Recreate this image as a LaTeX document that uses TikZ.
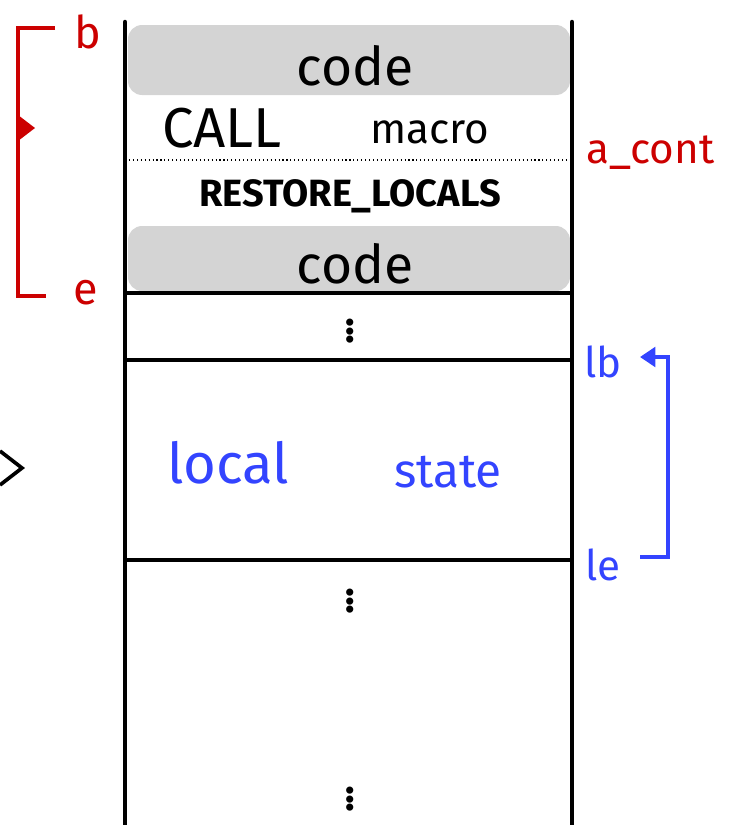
\documentclass[tikz,border=0pt]{standalone}
\usepackage{fontspec}
\setmainfont{Fira Sans}
\usetikzlibrary{arrows.meta, positioning}
\definecolor{vermelho}{RGB}{204, 0, 0}
\definecolor{azul}{RGB}{51, 68, 255}
\definecolor{cinza}{RGB}{212, 212, 212}

\begin{document}
\begin{tikzpicture}[
    x=0.025cm, y=-0.025cm,
    parede/.style={
        line width=3.2pt,
        line cap=round
    },
    divisa/.style={
        line width=2.6pt
    },
    faixa/.style={
        fill=cinza,
        draw=none,
        rounded corners=10pt
    },
    texto/.style={
        font=\fontsize{#1}{#1}\selectfont,
        inner sep=0pt
    },
    pontos/.style={
        font=\fontsize{28}{28}\selectfont\bfseries,
        inner sep=0pt
    },
    chave/.style={
        draw=vermelho,
        line width=2.8pt
    },
    seta/.style={
        -{Triangle[length=11pt, width=14pt]},
        draw=azul,
        line width=2.6pt
    }
]
\useasboundingbox (0,0) rectangle (731,825);

% =================================================
% PILHA
% =================================================

\fill[faixa] (128,25) rectangle (570,95);
\fill[faixa] (128,226) rectangle (570,291);

\draw[parede] (125,22) -- (125,825);
\draw[parede] (572,22) -- (572,825);

\draw[dotted, thick] (125,160) -- (572,160);
\draw[divisa] (125,293) -- (572,293);
\draw[divisa] (125,360) -- (572,360);
\draw[divisa] (125,560) -- (572,560);

\node[texto=38] (code1) at (355,66)
{code};

\node[texto=40] (call) at (222,128)
{CALL};

\node[texto=30] (macro) at (430,132)
{macro};

\node[texto=27] (restore) at (350,196)
{\bfseries RESTORE\_LOCALS};

\node[texto=38] (code2) at (355,264)
{code};

\node[pontos] (dots1) at (350,327)
{$\vdots$};

\node[texto=40, text=azul] (local) at (228,463)
{local};

\node[texto=34, text=azul] (state) at (448,472)
{state};

\node[pontos] (dots2) at (350,597)
{$\vdots$};

\node[pontos] (dots3) at (350,795)
{$\vdots$};

% =================================================
% BLOCO b / e
% =================================================

\node[texto=32, text=vermelho] (b) at (88,32)
{b};

\node[texto=32, text=vermelho] (e) at (86,293)
{e};

\node[texto=30, text=vermelho, anchor=west] (acont) at (586,153)
{a\_cont};

\coordinate (bfim) at (55,28);
\coordinate (efim) at (46,296);

\draw[chave] (bfim) -- (18,28) -- (18,296) -- (efim);
\fill[vermelho] (18,115) -- (35,128) -- (18,141) -- cycle;

% =================================================
% ESTADO LOCAL
% =================================================

\node[texto=30, text=azul] (lb) at (603,362)
{lb};

\node[texto=30, text=azul] (le) at (603,565)
{le};

\coordinate (lefim) at (640,557);
\coordinate (lecanto) at (668,557);
\coordinate (lbfim) at (640,357);

\draw[seta] (lefim) -- (lecanto) |- (lbfim);

\draw[line width=2.6pt] (0,451) -- (22,468) -- (0,485);

\end{tikzpicture}
\end{document}
